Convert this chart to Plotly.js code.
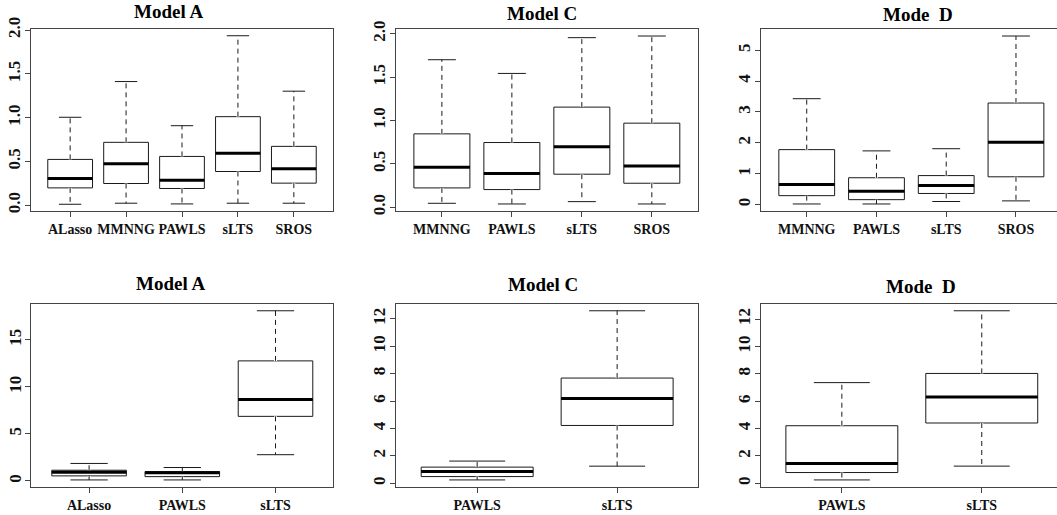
<!DOCTYPE html>
<html><head><meta charset="utf-8">
<script src="https://cdn.plot.ly/plotly-3.0.1.min.js"></script>
<style>html,body{margin:0;padding:0;background:#fff}#chart{width:1057px;height:515px}</style>
</head><body><div id="chart"></div>
<script>
// ---------- Data ----------
// Top row, Model A
const catsTopA = ['ALasso','MMNNG','PAWLS','sLTS','SROS'];
const lowTopA  = [0.011, 0.023, 0.015, 0.023, 0.023];
const q1TopA   = [0.198, 0.248, 0.191, 0.385, 0.252];
const medTopA  = [0.305, 0.473, 0.286, 0.592, 0.416];
const q3TopA   = [0.523, 0.718, 0.557, 1.011, 0.672];
const upTopA   = [1.004, 1.412, 0.908, 1.935, 1.302];
// Top row, Model C
const catsTopC = ['MMNNG','PAWLS','sLTS','SROS'];
const lowTopC  = [0.046, 0.038, 0.065, 0.038];
const q1TopC   = [0.223, 0.204, 0.381, 0.277];
const medTopC  = [0.462, 0.388, 0.696, 0.477];
const q3TopC   = [0.846, 0.746, 1.154, 0.969];
const upTopC   = [1.700, 1.542, 1.954, 1.973];
// Top row, Mode D
const catsTopD = ['MMNNG','PAWLS','sLTS','SROS'];
const lowTopD  = [0.02, 0.02, 0.10, 0.12];
const q1TopD   = [0.29, 0.16, 0.36, 0.90];
const medTopD  = [0.65, 0.43, 0.62, 2.02];
const q3TopD   = [1.78, 0.87, 0.94, 3.29];
const upTopD   = [3.43, 1.74, 1.81, 5.46];
// Bottom row, Model A
const catsBotA = ['ALasso','PAWLS','sLTS'];
const lowBotA  = [0.11, 0.11, 2.79];
const q1BotA   = [0.54, 0.46, 6.86];
const medBotA  = [0.93, 0.86, 8.64];
const q3BotA   = [1.14, 1.00, 12.75];
const upBotA   = [1.86, 1.43, 18.07];
// Bottom row, Model C
const catsBotC = ['PAWLS','sLTS'];
const lowBotC  = [0.245, 1.25];
const q1BotC   = [0.49, 4.22];
const medBotC  = [0.86, 6.18];
const q3BotC   = [1.18, 7.68];
const upBotC   = [1.62, 12.59];
// Bottom row, Mode D
const catsBotD = ['PAWLS','sLTS'];
const lowBotD  = [0.25, 1.26];
const q1BotD   = [0.79, 4.41];
const medBotD  = [1.45, 6.31];
const q3BotD   = [4.21, 8.03];
const upBotD   = [7.36, 12.61];

const titles = ['Model A','Model C','Mode  D','Model A','Model C','Mode  D'];

// ---------- Layout geometry ----------
const W = 1057, H = 515;
const SERIF = '"Liberation Serif", "Times New Roman", serif';
const INK = '#1a1a1a';

const panels = [
  {cats:catsTopA, low:lowTopA, q1:q1TopA, med:medTopA, q3:q3TopA, up:upTopA,
   px:[31, 333], py:[29, 211], dtick:0.5, fmt:'.1f', tpos:[168, 12]},
  {cats:catsTopC, low:lowTopC, q1:q1TopC, med:medTopC, q3:q3TopC, up:upTopC,
   px:[395.7, 698], py:[29.3, 210.7], dtick:0.5, fmt:'.1f', tpos:[542, 13]},
  {cats:catsTopD, low:lowTopD, q1:q1TopD, med:medTopD, q3:q3TopD, up:upTopD,
   px:[760.7, 1062], py:[29.3, 210.7], dtick:1, fmt:'d', tpos:[918, 15]},
  {cats:catsBotA, low:lowBotA, q1:q1BotA, med:medBotA, q3:q3BotA, up:upBotA,
   px:[31.3, 333.3], py:[304, 486.7], dtick:5, fmt:'d', tpos:[170, 283]},
  {cats:catsBotC, low:lowBotC, q1:q1BotC, med:medBotC, q3:q3BotC, up:upBotC,
   px:[396, 698.3], py:[304, 486.7], dtick:2, fmt:'d', tpos:[543, 284]},
  {cats:catsBotD, low:lowBotD, q1:q1BotD, med:medBotD, q3:q3BotD, up:upBotD,
   px:[760.7, 1062.9], py:[304, 486.7], dtick:2, fmt:'d', tpos:[921, 286]}
];

const BOXW = 0.8, CAPW = 0.4;
const traces = [];
const layout = {
  width: W, height: H,
  margin: {l:0, r:0, t:0, b:0},
  paper_bgcolor: '#fff', plot_bgcolor: '#fff',
  showlegend: false,
  annotations: []
};

panels.forEach((p, k) => {
  const id = k === 0 ? '' : String(k + 1);
  const xa = 'x' + id, ya = 'y' + id;
  const n = p.cats.length;
  const pos = p.cats.map((_, i) => i + 1);

  // R-style axis limits (4% extension)
  let xlo = 0.5 - 0.04 * n, xhi = n + 0.5 + 0.04 * n;
  let right = p.px[1];
  const clipped = right > W;
  if (clipped) { xhi = xlo + (xhi - xlo) * (W - p.px[0]) / (p.px[1] - p.px[0]); right = W; }
  const ymin = Math.min(...p.low), ymax = Math.max(...p.up);
  const pad = 0.04 * (ymax - ymin);

  traces.push({
    type: 'box', xaxis: xa, yaxis: ya, x: pos,
    q1: p.q1, median: p.med, q3: p.q3, lowerfence: p.low, upperfence: p.up,
    width: BOXW, whiskerwidth: 0, boxpoints: false,
    fillcolor: '#ffffff', line: {color: INK, width: 1}, hoverinfo: 'skip'
  });

  const wx = [], wy = [], cx = [], cy = [], mx = [], my = [];
  pos.forEach((x, i) => {
    wx.push(x, x, null, x, x, null);
    wy.push(p.q3[i], p.up[i], null, p.q1[i], p.low[i], null);
    cx.push(x - CAPW/2, x + CAPW/2, null, x - CAPW/2, x + CAPW/2, null);
    cy.push(p.up[i], p.up[i], null, p.low[i], p.low[i], null);
    mx.push(x - BOXW/2, x + BOXW/2, null);
    my.push(p.med[i], p.med[i], null);
  });
  traces.push({type:'scatter', mode:'lines', xaxis:xa, yaxis:ya, x:wx, y:wy,
    line:{color:'#ffffff', width:3}, hoverinfo:'skip'});
  traces.push({type:'scatter', mode:'lines', xaxis:xa, yaxis:ya, x:wx, y:wy,
    line:{color:INK, width:1, dash:'5px,4px'}, hoverinfo:'skip'});
  traces.push({type:'scatter', mode:'lines', xaxis:xa, yaxis:ya, x:cx, y:cy,
    line:{color:INK, width:1}, hoverinfo:'skip'});
  traces.push({type:'scatter', mode:'lines', xaxis:xa, yaxis:ya, x:mx, y:my,
    line:{color:'#000', width:3}, hoverinfo:'skip'});

  layout['xaxis' + id] = {
    domain: [p.px[0] / W, right / W], anchor: ya,
    range: [xlo, xhi], tickmode: 'array', tickvals: pos, ticktext: p.cats,
    tickangle: 0,
    showgrid: false, zeroline: false, showline: true, mirror: true,
    linecolor: '#444', linewidth: 1,
    ticks: 'outside', ticklen: 5, tickwidth: 1, tickcolor: '#444',
    tickfont: {family: SERIF, size: 14, color: '#111', weight: 'bold'},
    fixedrange: true
  };
  layout['yaxis' + id] = {
    domain: [1 - p.py[1] / H, 1 - p.py[0] / H], anchor: xa,
    range: [ymin - pad, ymax + pad], tickmode: 'linear', tick0: 0, dtick: p.dtick,
    tickformat: p.fmt, tickangle: -90, ticklabelstandoff: -2,
    showgrid: false, zeroline: false, showline: true, mirror: !clipped,
    linecolor: '#444', linewidth: 1,
    ticks: 'outside', ticklen: 5, tickwidth: 1, tickcolor: '#444',
    tickfont: {family: SERIF, size: 17, color: '#111', weight: 'bold'},
    fixedrange: true
  };
  layout.annotations.push({
    text: titles[k], xref: 'paper', yref: 'paper',
    x: p.tpos[0] / W, y: 1 - p.tpos[1] / H, xanchor: 'center', yanchor: 'middle',
    showarrow: false, font: {family: SERIF, size: 19, color: '#000', weight: 'bold'}
  });
});

Plotly.newPlot('chart', traces, layout, {displayModeBar: false, staticPlot: true});
</script>
</body></html>
